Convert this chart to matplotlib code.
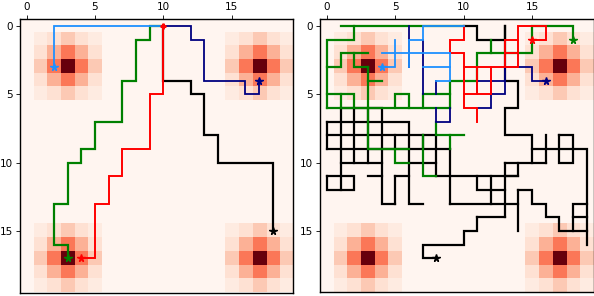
import numpy as np
import matplotlib
matplotlib.use("Agg")
import matplotlib.pyplot as plt

# ---------------- data ----------------
grid_size = 20
peak_rows = [3, 3, 17, 17]
peak_cols = [3, 17, 3, 17]
kernel = [
    [0.06, 0.12, 0.20, 0.12, 0.06],
    [0.12, 0.28, 0.46, 0.28, 0.12],
    [0.20, 0.46, 1.00, 0.46, 0.20],
    [0.12, 0.28, 0.46, 0.28, 0.12],
    [0.06, 0.12, 0.20, 0.12, 0.06],
]
tick_values = [0, 5, 10, 15]

colors = {"black": "black", "green": "green", "navy": "navy",
          "red": "red", "blue": "dodgerblue"}
widths = {"black": 1.6, "green": 1.6, "navy": 1.3, "red": 1.4, "blue": 1.3}
draw_order = ["black", "green", "navy", "red", "blue"]

# left panel: (x, y) path vertices per agent
left_black = [[(10, 0), (10, 4), (12, 4), (12, 5), (13, 5), (13, 8), (14, 8),
               (14, 10), (18, 10), (18, 15)]]
left_green = [[(10, 0), (9, 0), (9, 1), (8, 1), (8, 4), (7, 4), (7, 7), (5, 7),
               (5, 9), (4, 9), (4, 10), (3, 10), (3, 13), (2, 13), (2, 16),
               (3, 16), (3, 17)]]
left_navy = [[(10, 0), (12, 0), (12, 1), (13, 1), (13, 4), (16, 4), (16, 5),
              (17, 5), (17, 4)]]
left_red = [[(10, 0), (10, 5), (9, 5), (9, 9), (7, 9), (7, 11), (6, 11),
             (6, 13), (5, 13), (5, 17), (4, 17)]]
left_blue = [[(10, 0), (2, 0), (2, 3)]]
left_goals = {"black": (18, 15), "green": (3, 17), "navy": (17, 4),
              "red": (4, 17), "blue": (2, 3)}
start = (10, 0)

# right panel
right_black = [
    [(10, 0), (11, 0), (11, 1), (13, 1), (13, 0)],
    [(13, 0), (13, 4), (14, 4), (14, 6), (13, 6), (13, 8), (15, 8), (15, 10)],
    [(15, 9), (19, 9), (19, 16)],
    [(16, 8), (16, 10)], [(17, 8), (17, 10), (18, 10), (18, 8), (17, 8)],
    [(13, 10), (16, 10)], [(13, 10), (13, 14)],
    [(13, 11), (14, 11), (14, 10)],
    [(8, 11), (14, 11)], [(9, 13), (14, 13)],
    [(14, 12), (14, 15)],
    [(14, 12), (15, 12), (15, 13), (16, 13), (16, 14), (17, 14), (17, 15), (19, 15)],
    [(19, 13), (18, 13), (18, 15)], [(18, 14), (19, 14)],
    [(11, 11), (11, 12), (13, 12)], [(12, 11), (12, 13)],
    [(9, 9), (9, 13)],
    [(11, 14), (13, 14)],
    [(11, 14), (11, 15), (10, 15), (10, 16), (7, 16), (7, 17), (8, 17)],
    [(1, 6), (4, 6), (4, 13), (5, 13)],
    [(0, 7), (6, 7), (6, 13), (7, 13)],
    [(0, 8), (8, 8)], [(0, 9), (9, 9)],
    [(0, 7), (0, 9)], [(1, 6), (1, 12)], [(2, 6), (2, 10)], [(3, 6), (3, 10)],
    [(1, 10), (4, 10)], [(6, 10), (8, 10)],
    [(0, 11), (2, 11), (2, 12), (0, 12), (0, 11)], [(3, 11), (4, 11)],
    [(5, 11), (6, 11)], [(5, 11), (5, 13)],
    [(8, 8), (8, 11)], [(7, 8), (7, 9)], [(5, 8), (5, 9)],
]
right_green = [
    [(10, 0), (1, 0)],
    [(2, 0), (2, 1), (0, 1), (0, 6)],
    [(0, 3), (1, 3), (1, 2), (3, 2)],
    [(2, 2), (2, 3), (3, 3)],
    [(3, 3), (3, 9), (6, 9)],
    [(3, 4), (4, 4)],
    [(0, 5), (2, 5), (2, 6)], [(1, 5), (1, 6)],
    [(0, 6), (9, 6)],
    [(5, 6), (5, 5), (6, 5), (6, 6)],
    [(7, 6), (7, 5), (9, 5)],
    [(9, 6), (9, 4), (11, 4), (11, 2), (15, 2), (15, 0), (18, 0), (18, 1)],
    [(12, 1), (12, 2)],
    [(8, 7), (8, 8), (10, 8)], [(9, 8), (9, 9)],
    [(7, 8), (7, 11), (8, 11)],
    [(5, 9), (5, 10), (6, 10)],
]
right_navy = [
    [(6, 0), (6, 3)],
    [(7, 1), (7, 5)],
    [(8, 4), (8, 5)],
    [(8, 6), (8, 7), (9, 7), (9, 6)],
    [(11, 4), (13, 4), (13, 3), (15, 3), (15, 4), (16, 4)],
    [(11, 4), (11, 5)],
    [(12, 4), (12, 6), (11, 6)],
    [(12, 5), (13, 5), (13, 4)],
]
right_red = [
    [(10, 0), (10, 1), (9, 1), (9, 2), (10, 2), (10, 6), (11, 6), (11, 7)],
    [(10, 3), (14, 3), (14, 0), (16, 0), (16, 1), (15, 1)],
    [(11, 3), (11, 5)], [(12, 3), (12, 5)], [(10, 5), (12, 5)],
    [(13, 1), (14, 1)], [(13, 1), (13, 3)], [(13, 2), (14, 2)],
]
right_blue = [
    [(10, 0), (7, 0), (7, 1), (6, 1), (6, 3)],
    [(5, 1), (5, 3), (4, 3)],
    [(4, 2), (9, 2)],
    [(7, 3), (9, 3)],
    [(9, 2), (9, 4), (8, 4)],
]
right_goals = {"black": (8, 17), "green": (18, 1), "navy": (16, 4),
               "red": (15, 1), "blue": (4, 3)}

# ---------------- build heat map ----------------
field = np.zeros((grid_size, grid_size))
k = np.array(kernel)
half = k.shape[0] // 2
for r, c in zip(peak_rows, peak_cols):
    field[r - half:r + half + 1, c - half:c + half + 1] = np.maximum(
        field[r - half:r + half + 1, c - half:c + half + 1], k)

W, H = 594, 296
fig = plt.figure(figsize=(W / 100, H / 100), dpi=100)
ax_w = 273.4 / W
ax_h = 273.4 / H
bottom = (H - 292.5) / H
axL = fig.add_axes([19.7 / W, bottom, ax_w, ax_h])
axR = fig.add_axes([320.1 / W, bottom, ax_w, ax_h])

left = {"black": left_black, "green": left_green, "navy": left_navy,
        "red": left_red, "blue": left_blue}
right = {"black": right_black, "green": right_green, "navy": right_navy,
         "red": right_red, "blue": right_blue}

for ax, paths, goals in [(axL, left, left_goals), (axR, right, right_goals)]:
    ax.imshow(field, cmap="Reds", vmin=0, vmax=1, interpolation="nearest")
    for name in draw_order:
        for poly in paths[name]:
            xs = [p[0] for p in poly]
            ys = [p[1] for p in poly]
            ax.plot(xs, ys, color=colors[name], lw=widths[name],
                    solid_joinstyle="miter", solid_capstyle="projecting")
    for name in draw_order:
        gx, gy = goals[name]
        ax.plot([gx], [gy], marker="*", color=colors[name], ms=5.5,
                linestyle="none", zorder=5)
    ax.set_xlim(-0.5, grid_size - 0.5)
    ax.set_ylim(grid_size - 0.5, -0.5)
    ax.xaxis.tick_top()
    ax.set_xticks(tick_values)
    ax.set_yticks(tick_values)
    ax.tick_params(labelsize=7.5, length=3, width=0.6, pad=2)
    for s in ax.spines.values():
        s.set_linewidth(1.0)

axL.plot([start[0]], [start[1]], marker="P", color="red", ms=3.5,
         linestyle="none", zorder=6)

fig.savefig("out.png", dpi=100)
